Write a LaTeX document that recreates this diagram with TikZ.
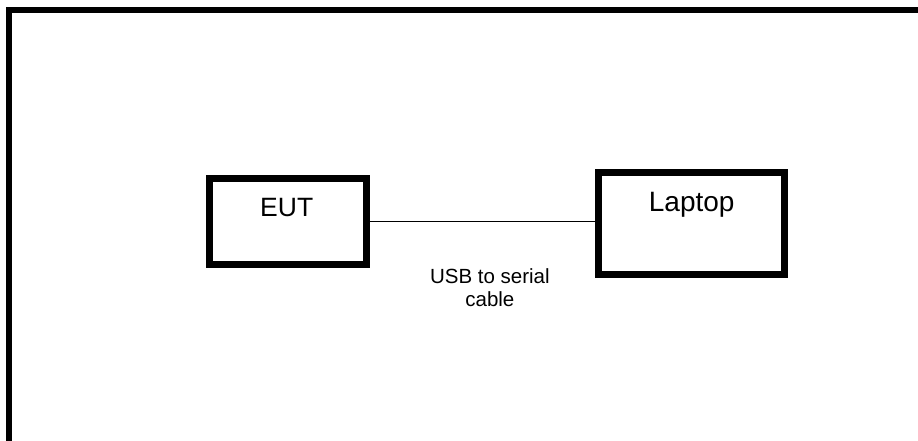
\documentclass[tikz,border=0pt]{standalone}
\usepackage{fontspec}
\setmainfont{Liberation Sans}
\usepackage{tikz}
\usetikzlibrary{calc}

\tikzset{
  unit/.style={draw, line width=6.5pt, inner sep=0pt},
  unitname/.style={anchor=base, inner sep=0pt}
}

\begin{document}
\begin{tikzpicture}[x=1pt, y=-1pt]
\useasboundingbox (0,0) rectangle (918,440);
\clip (0,0) rectangle (918,440);
\draw[line width=5.5pt] (9,460)--(9,10)--(940,10);
\node[unit, minimum width=157pt, minimum height=86pt] (eut) at (288,221.5) {};
\node[unit, minimum width=186pt, minimum height=102pt] (laptop) at (691.5,223.5) {};
\path
(286.7,216.7) node[unitname, font=\fontsize{26.5}{30}\selectfont] (euttext) {EUT};
\path
(691.7,211.7) node[unitname, font=\fontsize{28}{32}\selectfont] (laptoptext) {Laptop};
\draw[line width=1.3pt] (eut.east)--(eut.east -| laptop.west);
\path
(489.9,306.7) node[unitname, align=center, font=\fontsize{20.5}{23.4}\selectfont] (cable) {USB to serial\\cable};
\end{tikzpicture}
\end{document}
